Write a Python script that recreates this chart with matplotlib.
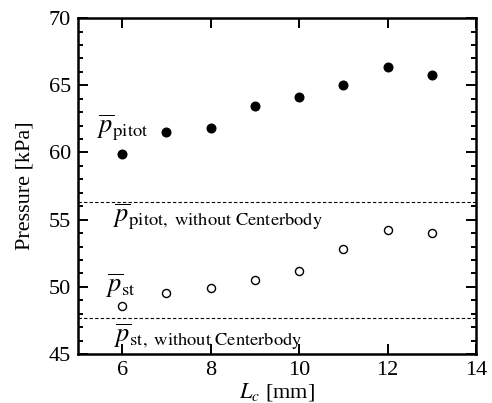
import matplotlib
matplotlib.use('Agg')
import matplotlib.pyplot as plt
from matplotlib.ticker import MultipleLocator

plt.rcParams['font.family'] = ['Liberation Serif', 'DejaVu Serif']
plt.rcParams['mathtext.fontset'] = 'stix'

# data
lc = [6, 7, 8, 9, 10, 11, 12, 13]
p_pitot = [59.9, 61.5, 61.85, 63.45, 64.15, 65.0, 66.35, 65.8]
p_st = [48.55, 49.55, 49.9, 50.5, 51.15, 52.8, 54.2, 54.0]
p_pitot_ref = 56.32
p_st_ref = 47.65

fig = plt.figure(figsize=(4.92, 4.03), dpi=100)
ax = fig.add_axes([0.1585, 0.1216, 0.809, 0.8334])

ax.plot(lc, p_pitot, 'o', color='black', markersize=6.2)
ax.plot(lc, p_st, 'o', markerfacecolor='white', markeredgecolor='black',
        markeredgewidth=1.0, markersize=5.8)
ax.axhline(p_pitot_ref, color='black', linestyle='--', linewidth=0.8, dashes=(3, 2))
ax.axhline(p_st_ref, color='black', linestyle='--', linewidth=0.8, dashes=(3, 2))

ax.text(5.42, 61.9, r'$\overline{p}_{\mathrm{pitot}}$', fontsize=19, va='center')
ax.text(5.8, 55.3, r'$\overline{p}_{\mathrm{pitot,\ without\ Centerbody}}$',
        fontsize=19, va='center')
ax.text(5.63, 50.1, r'$\overline{p}_{\mathrm{st}}$', fontsize=19, va='center')
ax.text(5.82, 46.3, r'$\overline{p}_{\mathrm{st,\ without\ Centerbody}}$',
        fontsize=19, va='center')

ax.set_xlim(5, 14)
ax.set_ylim(45, 70)
ax.xaxis.set_major_locator(MultipleLocator(2))
ax.yaxis.set_major_locator(MultipleLocator(5))
ax.yaxis.set_minor_locator(MultipleLocator(1))
ax.tick_params(which='both', direction='in', top=True, right=True, width=1.4)
ax.tick_params(which='major', length=7, labelsize=16, pad=5)
ax.tick_params(which='minor', length=3.5)
for s in ax.spines.values():
    s.set_linewidth(1.8)

ax.set_xlabel(r'$L_c$ [mm]', fontsize=16, labelpad=0.5)
ax.set_ylabel('Pressure [kPa]', fontsize=16, labelpad=10)

fig.savefig('out.png', dpi=100)
